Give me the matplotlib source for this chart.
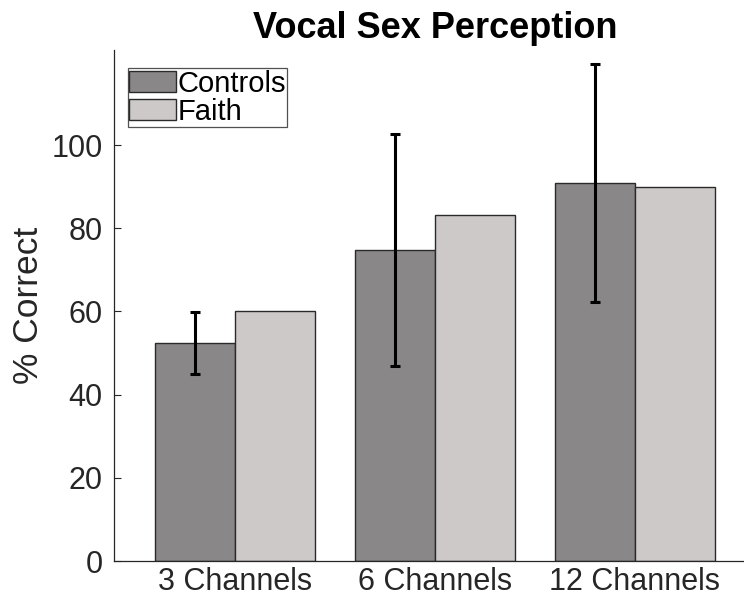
import matplotlib
matplotlib.use("Agg")
import matplotlib.pyplot as plt
import numpy as np

plt.rcParams['font.family'] = ['Liberation Sans', 'DejaVu Sans']

categories = ["3 Channels", "6 Channels", "12 Channels"]
controls = [52.4, 74.8, 90.9]
controls_err = [7.5, 27.8, 28.6]
faith = [60.0, 83.3, 90.0]
series_names = ["Controls", "Faith"]
yticks = [0, 20, 40, 60, 80, 100]

fig = plt.figure(figsize=(7.44, 5.96), dpi=100)
ax = fig.add_axes([0.153, 0.0587, 0.847, 0.857])

x = np.arange(1, len(categories) + 1)
w = 0.4
ax.bar(x - w/2, controls, w, color="#898788", edgecolor="#2a2a2a", linewidth=1.0, label=series_names[0])
ax.bar(x + w/2, faith, w, color="#cdc9c9", edgecolor="#2a2a2a", linewidth=1.0, label=series_names[1])
ax.errorbar(x - w/2, controls, yerr=controls_err, fmt="none", ecolor="black", elinewidth=2.2, capsize=3.5, capthick=2.2)

ax.set_xlim(0.395, 3.545)
ax.set_ylim(0, 122.8)
ax.set_xticks(x)
ax.set_xticklabels(categories, fontsize=22)
ax.set_yticks(yticks)
ax.set_yticklabels([str(v) for v in yticks], fontsize=22)
ax.tick_params(axis="y", direction="in", length=5, width=0.8, colors="#262626", pad=8)
ax.tick_params(axis="x", length=0, pad=4, colors="#262626")
for s in ["top", "right"]:
    ax.spines[s].set_visible(False)
for s in ["left", "bottom"]:
    ax.spines[s].set_color("#262626")
    ax.spines[s].set_linewidth(0.9)

ax.set_ylabel("% Correct", fontsize=25.5, color="#262626", labelpad=5)
ax.set_title("Vocal Sex Perception", fontsize=26, fontweight="bold", pad=9, x=0.51)

leg = ax.legend(loc="upper left", bbox_to_anchor=(0.022, 0.965), fontsize=21, frameon=True, fancybox=False,
                handlelength=1.6, handleheight=0.75, handletextpad=0.05, borderpad=0.05, labelspacing=0.0,
                borderaxespad=0)
leg.get_frame().set_edgecolor("#262626")
leg.get_frame().set_linewidth(0.9)

fig.savefig("out.png", dpi=100)
